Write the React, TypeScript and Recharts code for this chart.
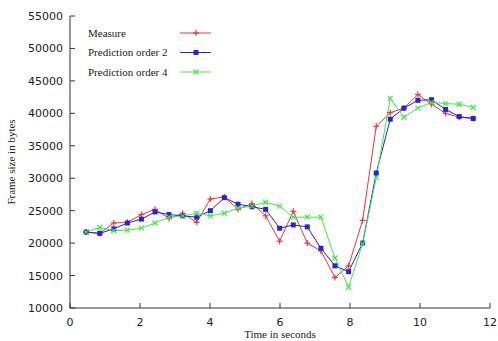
import React from 'react';
import { LineChart, Line, XAxis, YAxis, Legend } from 'recharts';

const times = [0.46, 0.85, 1.25, 1.64, 2.04, 2.43, 2.83, 3.22, 3.62, 4.01, 4.41, 4.8, 5.2, 5.59, 5.99, 6.38, 6.78, 7.17, 7.57, 7.96, 8.36, 8.75, 9.15, 9.54, 9.94, 10.33, 10.73, 11.12, 11.52];
const measure = [21700, 21500, 23100, 23200, 24400, 25200, 23800, 24600, 23200, 26800, 27100, 25200, 26100, 24200, 20300, 24900, 20000, 18800, 14700, 16500, 23500, 38000, 40100, 40800, 42900, 41400, 40000, 39400, 39200];
const pred2 = [21700, 21500, 22200, 23100, 23700, 24800, 24400, 24200, 24000, 25000, 27000, 26000, 25600, 25200, 22300, 22800, 22500, 19200, 16500, 15600, 20000, 30800, 39100, 40800, 42000, 42100, 40600, 39500, 39200];
const pred4 = [21700, 22400, 21900, 22000, 22300, 23100, 24000, 24200, 24600, 24200, 24600, 25400, 25700, 26300, 25700, 24000, 24000, 24000, 17700, 13200, 19900, 30100, 42300, 39400, 40800, 41700, 41500, 41400, 40900];
const seriesNames = ['Measure', 'Prediction order 2', 'Prediction order 4'];
const xTicks = [0, 2, 4, 6, 8, 10, 12];
const yTicks = [10000, 15000, 20000, 25000, 30000, 35000, 40000, 45000, 50000, 55000];
const xTitle = 'Time in seconds';
const yTitle = 'Frame size in bytes';

const data = times.map((t, i) => ({ t, m: measure[i], p2: pred2[i], p4: pred4[i] }));

const RED = '#ee3535';
const BLUE = '#2424dd';
const GREEN = '#44e844';
const AXIS = '#333333';
const SERIF = '"Liberation Serif", "DejaVu Serif", serif';
const SANS = '"DejaVu Sans", sans-serif';

const PlusMark = ({ cx, cy, color }: any) => (
  <g>
    <line x1={cx - 3} y1={cy} x2={cx + 3} y2={cy} stroke={color} strokeWidth={1.2} />
    <line x1={cx} y1={cy - 3} x2={cx} y2={cy + 3} stroke={color} strokeWidth={1.2} />
  </g>
);
const SquareMark = ({ cx, cy, color }: any) => (
  <rect x={cx - 2.5} y={cy - 2.5} width={5} height={5} fill={color} />
);
const CrossMark = ({ cx, cy, color }: any) => (
  <g>
    <line x1={cx - 2.5} y1={cy - 2.5} x2={cx + 2.5} y2={cy + 2.5} stroke={color} strokeWidth={1.2} />
    <line x1={cx - 2.5} y1={cy + 2.5} x2={cx + 2.5} y2={cy - 2.5} stroke={color} strokeWidth={1.2} />
  </g>
);

const markers = [PlusMark, SquareMark, CrossMark];
const colors = [RED, BLUE, GREEN];

const makeDot = (Mark: any, color: string) => (props: any) => {
  const { cx, cy, index } = props;
  if (cx == null || cy == null) return <g key={`d${index}`} />;
  return <g key={`d${index}`}><Mark cx={cx} cy={cy} color={color} /></g>;
};

const BottomTick = ({ x, y, payload }: any) => (
  <g>
    <line x1={x} y1={y} x2={x} y2={y - 5} stroke={AXIS} />
    <text x={x} y={y + 18} textAnchor="middle" fontFamily={SANS} fontSize={11} fill="#222">{payload.value}</text>
  </g>
);
const TopTick = ({ x, y }: any) => <line x1={x} y1={y} x2={x} y2={y + 5} stroke={AXIS} />;
const LeftTick = ({ x, y, payload }: any) => (
  <g>
    <line x1={x} y1={y} x2={x + 5} y2={y} stroke={AXIS} />
    <text x={x - 7} y={y + 4} textAnchor="end" fontFamily={SANS} fontSize={11} fill="#222">{payload.value}</text>
  </g>
);
const RightTick = ({ x, y }: any) => <line x1={x} y1={y} x2={x - 5} y2={y} stroke={AXIS} />;

const XTitle = (props: any) => {
  const vb = props.viewBox || { x: 70, y: 308, width: 420, height: 33 };
  return (
    <text x={vb.x + vb.width / 2} y={vb.y + vb.height - 3} textAnchor="middle" fontFamily={SERIF} fontSize={11} fill="#222">{xTitle}</text>
  );
};
const YTitle = (props: any) => {
  const vb = props.viewBox || { x: 0, y: 16, width: 70, height: 292 };
  const cx = vb.x + 15;
  const cy = vb.y + vb.height / 2;
  return (
    <text x={cx} y={cy} transform={`rotate(-90, ${cx}, ${cy})`} textAnchor="middle" fontFamily={SERIF} fontSize={11} fill="#222">{yTitle}</text>
  );
};

const LegendBox = () => (
  <svg width={140} height={62} style={{ display: 'block' }}>
    {seriesNames.map((name, i) => {
      const Mark = markers[i];
      const cy = 11 + i * 19.5;
      return (
        <g key={name}>
          <text x={8} y={cy + 3.5} fontFamily={SERIF} fontSize={11} fill="#222">{name}</text>
          <line x1={100} y1={cy} x2={131} y2={cy} stroke={colors[i]} strokeWidth={1} />
          <Mark cx={116} cy={cy} color={colors[i]} />
        </g>
      );
    })}
  </svg>
);

export default function App() {
  return (
    <div style={{ position: 'absolute', left: 0, top: 0, background: '#fff' }}>
      <LineChart width={498} height={341} data={data} margin={{ top: 16, right: 8, bottom: 0, left: 0 }}>
        <XAxis xAxisId="b" dataKey="t" type="number" domain={[0, 12]} ticks={xTicks} allowDataOverflow
          height={33} tickSize={0} tickMargin={0} tickLine={false} tick={<BottomTick />}
          axisLine={{ stroke: AXIS }} label={<XTitle />} />
        <XAxis xAxisId="top" orientation="top" dataKey="t" type="number" domain={[0, 12]} ticks={xTicks} allowDataOverflow
          height={0} tickSize={0} tickMargin={0} tickLine={false} tick={<TopTick />} axisLine={{ stroke: AXIS }} />
        <YAxis yAxisId="l" type="number" domain={[10000, 55000]} ticks={yTicks} allowDataOverflow
          width={70} tickSize={0} tickMargin={0} tickLine={false} tick={<LeftTick />}
          axisLine={{ stroke: AXIS }} label={<YTitle />} />
        <YAxis yAxisId="right" orientation="right" type="number" domain={[10000, 55000]} ticks={yTicks} allowDataOverflow
          width={0} tickSize={0} tickMargin={0} tickLine={false} tick={<RightTick />} axisLine={{ stroke: AXIS }} />
        <Legend layout="vertical" align="center" verticalAlign="middle" content={<LegendBox />}
          wrapperStyle={{ left: 80, top: 22, width: 140, height: 62 }} />
        <Line xAxisId="top" yAxisId="right" dataKey="m" stroke="none" dot={false} legendType="none" isAnimationActive={false} />
        <Line xAxisId="b" yAxisId="l" dataKey="m" name={seriesNames[0]} stroke={RED} strokeWidth={1}
          dot={makeDot(PlusMark, RED)} activeDot={false} isAnimationActive={false} />
        <Line xAxisId="b" yAxisId="l" dataKey="p2" name={seriesNames[1]} stroke={BLUE} strokeWidth={1}
          dot={makeDot(SquareMark, BLUE)} activeDot={false} isAnimationActive={false} />
        <Line xAxisId="b" yAxisId="l" dataKey="p4" name={seriesNames[2]} stroke={GREEN} strokeWidth={1}
          dot={makeDot(CrossMark, GREEN)} activeDot={false} isAnimationActive={false} />
      </LineChart>
    </div>
  );
}
